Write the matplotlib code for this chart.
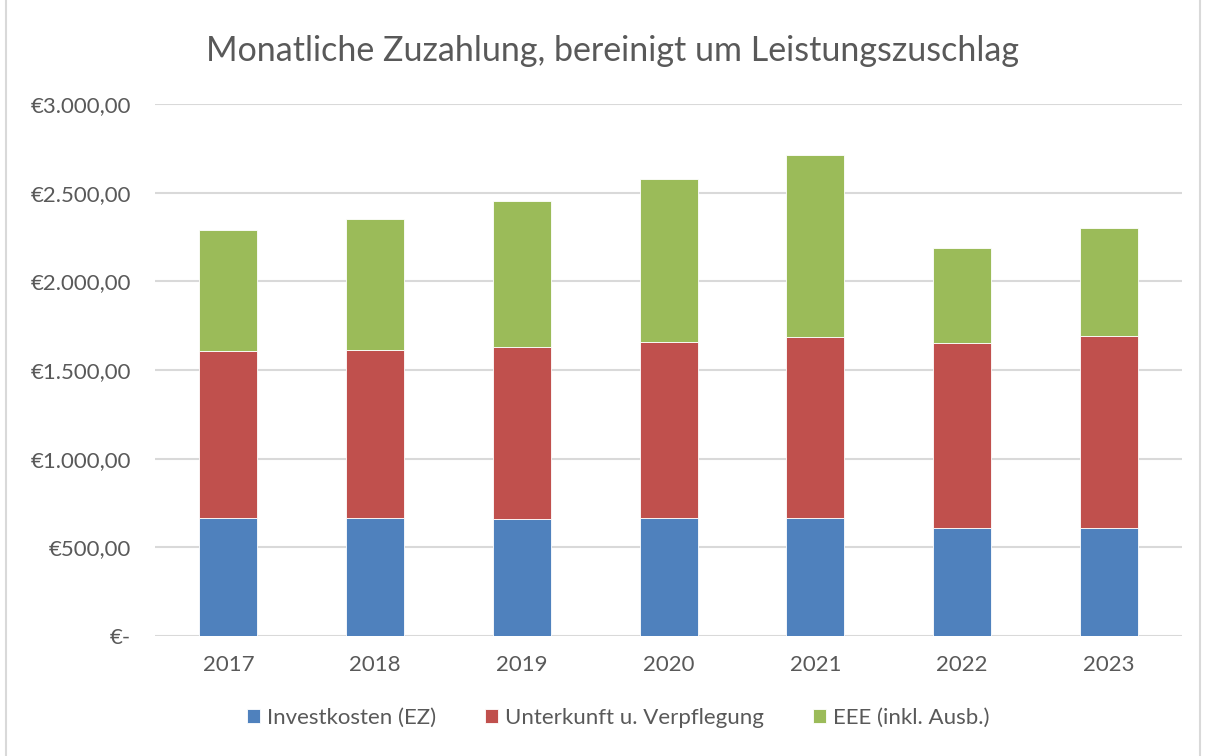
import numpy as np
import matplotlib
matplotlib.use('Agg')
import matplotlib.pyplot as plt
from matplotlib.patches import Rectangle

plt.rcParams['font.family'] = ['Lato', 'DejaVu Sans']

years = ['2017', '2018', '2019', '2020', '2021', '2022', '2023']
invest = [668, 668, 658, 668, 668, 609, 609]
unterkunft = [939, 947, 972, 990, 1019, 1042, 1085]
eee = [680, 737, 823, 920, 1028, 537, 607]

series_names = ['Investkosten (EZ)', 'Unterkunft u. Verpflegung', 'EEE (inkl. Ausb.)']
colors = ['#4F81BD', '#C0504D', '#9BBB59']

y_ticks = [0, 500, 1000, 1500, 2000, 2500, 3000]
y_labels = ['€-', '€500,00', '€1.000,00', '€1.500,00', '€2.000,00', '€2.500,00', '€3.000,00']

text_col = '#595959'

fig = plt.figure(figsize=(12.05, 7.56), dpi=100)
ax = fig.add_axes([0.1286, 0.1587, 0.8524, 0.7037])

x = np.arange(len(years))
bottom = np.zeros(len(years))
for vals, name, c in zip([invest, unterkunft, eee], series_names, colors):
    ax.bar(x, vals, width=0.395, bottom=bottom, color=c, label=name,
           edgecolor='#ffffff', linewidth=0.6, zorder=3)
    bottom += np.array(vals)

ax.set_xlim(-0.5, len(years) - 0.5)
ax.set_ylim(0, 3000)
ax.set_yticks(y_ticks)
ax.set_yticklabels(y_labels)
ax.set_xticks(x)
ax.set_xticklabels(years)
ax.tick_params(axis='both', length=0, labelsize=16, colors=text_col)
ax.tick_params(axis='y', pad=17)
ax.tick_params(axis='x', pad=14)
ax.yaxis.grid(True, color='#d9d9d9', linewidth=1.5, zorder=0)
for s in ax.spines.values():
    s.set_visible(False)

fig.text(0.508, 0.933, 'Monatliche Zuzahlung, bereinigt um Leistungszuschlag',
         ha='center', va='center', fontsize=24.5, color=text_col)

ax.legend(loc='center', bbox_to_anchor=(0.513, 0.05), bbox_transform=fig.transFigure,
          ncol=3, frameon=False, fontsize=16, labelcolor=text_col,
          handlelength=0.6, handleheight=0.6, handletextpad=0.3, columnspacing=2.2)

fig.patches.append(Rectangle((0.005, -0.01), 0.991, 1.05, transform=fig.transFigure,
                             fill=False, edgecolor='#d9d9d9', linewidth=1.5))

fig.savefig('out.png', dpi=100)
